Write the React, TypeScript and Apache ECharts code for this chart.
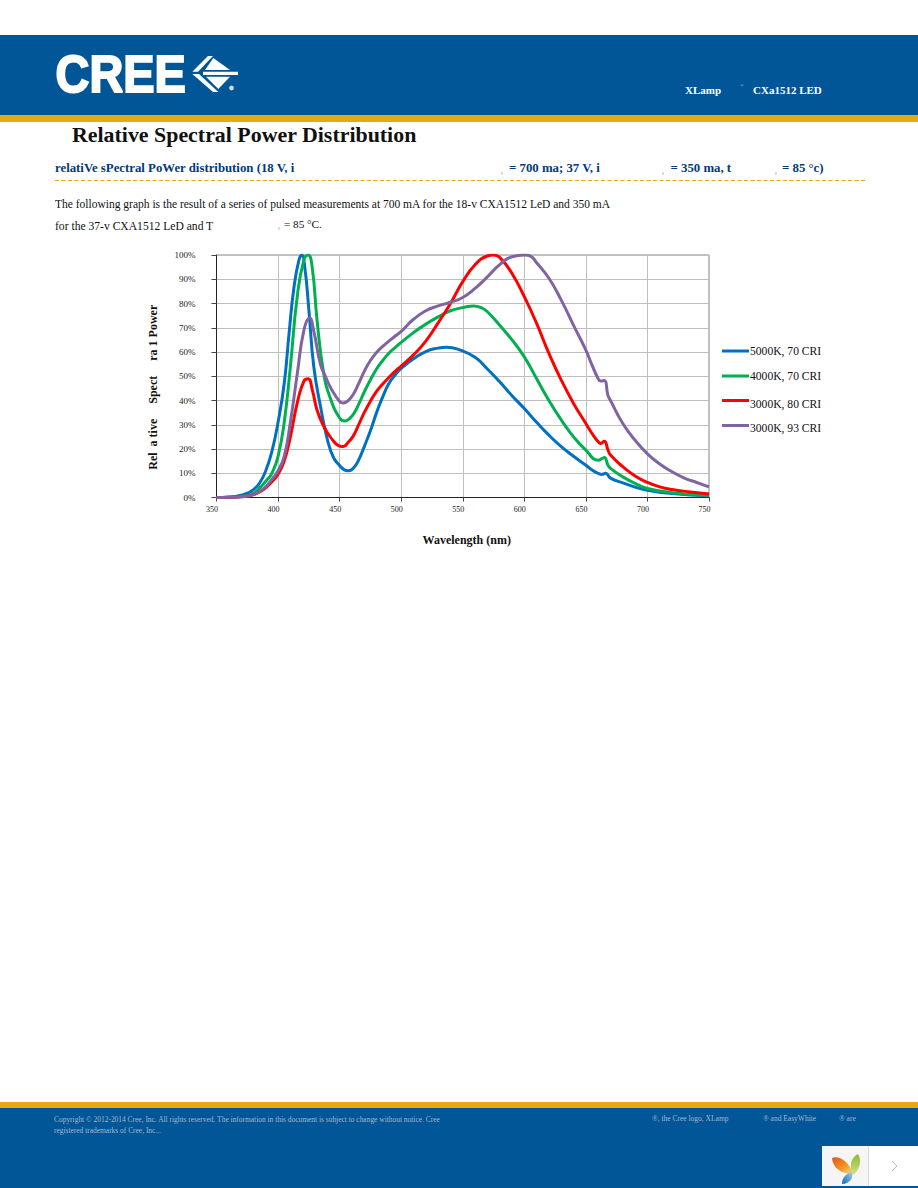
import React, { useEffect, useRef } from "react";
import * as echarts from "echarts";

const seriesNames = ["5000K, 70 CRI", "4000K, 70 CRI", "3000K, 80 CRI", "3000K, 93 CRI"];
const seriesColors = ["#0070c0", "#00b050", "#ff0000", "#8064a2"];
const tickPercent = (v: number) => `${v}%`;

const blue5000 = [[350,0],[360,0.1],[365,0.4],[370,0.9],[375,1.8],[380,3.2],[385,6],[390,11],[395,19],[400,31],[405,47],[409,68],[413,87],[417,98],[419.3,100],[421.7,95],[425,77.5],[429,54],[434.4,37.7],[440,24],[445,16.5],[450,13.2],[453.5,11.5],[457,11],[461,12],[465,15],[470,21],[475,27.5],[480,35],[485,41.5],[490,47],[495,50.5],[500,53.2],[510,57.2],[520,60.2],[530,61.6],[537,62],[547,61],[560,57.8],[570,53],[580,47.7],[590,42],[600,36.7],[610,31],[620,25.7],[630,21],[640,17],[650,13.3],[655,11.3],[660,10],[663,9.5],[666,10],[670,8],[680,6],[690,4.3],[700,3],[720,1.6],[750,0.7]];
const green4000 = [[350,0],[360,0.1],[370,0.4],[375,0.8],[380,1.6],[386,4.5],[391.4,7.5],[395,10],[400,17],[405,31],[410,54],[415.6,83],[421,98],[424.5,100],[427.7,95],[431.7,73],[437,51.4],[442.4,41],[450,32.8],[454,31.5],[458,32.5],[462,35],[466,39],[470,43.5],[475,48.5],[480,53],[485,56.5],[490,59.5],[495,61.8],[500,64],[510,68],[520,71.5],[530,74.5],[540,77],[550,78.3],[559,79],[565,78.3],[570,76.6],[580,71],[590,65],[600,58],[610,49],[620,40],[630,32],[640,25],[650,19.5],[660,15.4],[663,16],[665,16.5],[668,13.3],[670,12],[680,8.5],[690,5.8],[700,3.7],[720,2],[750,0.8]];
const red3000 = [[350,0],[360,0.1],[370,0.3],[375,0.6],[380,1.2],[385,2.3],[390,4],[395,6.5],[400,9.6],[405,15],[410,25],[415.6,39],[421,48],[424.5,49],[427.7,44.6],[431.7,36],[437,29.5],[442.4,25],[450,21.2],[453,21],[457,22.8],[461,25.3],[465,29.5],[470,35],[475,39.7],[480,43.8],[485,46.8],[490,49.5],[495,52],[500,54.2],[510,58.8],[520,64.5],[530,72],[540,80],[550,89],[560,96],[570,99.6],[575,100],[580,99],[590,92.4],[600,82.8],[610,71.8],[620,59.4],[630,48.4],[640,38.8],[650,30.5],[655,26.4],[660,23],[662,22.3],[665,23.2],[668,19.5],[670,17.5],[680,12.7],[690,8.9],[700,6.2],[710,4.4],[720,3.3],[735,2.3],[750,1.4]];
const purple3000 = [[350,0],[360,0.1],[370,0.3],[375,0.6],[380,1.2],[385,2.5],[390,4.5],[395,7.5],[400,11],[405,17],[410,31],[415.6,51],[421,69],[425.6,74],[429,68.6],[434.4,55],[438.4,50],[442.5,45.5],[450,39.6],[453,39],[457,40],[461,42.5],[465,46.5],[470,52],[475,56.5],[480,59.8],[485,62.3],[490,64.5],[495,66.5],[500,68.5],[510,73.5],[520,77],[530,79],[540,80.5],[550,82.5],[560,86.2],[570,91],[580,96],[590,99.3],[600,100],[605,99.5],[610,96.8],[620,90.4],[630,81.4],[640,71],[650,60.8],[655,54.6],[660,49],[662,48],[665,48.2],[668,42],[670,40],[680,30.5],[690,23.6],[700,18],[710,13.8],[720,10.6],[730,8],[740,6.2],[750,4.4]];
const curves = [blue5000, green4000, red3000, purple3000];

const BLUE = "#005696";
const GOLD = "#e8a811";
const NAVY = "#003b7a";
const SERIF = '"Liberation Serif", serif';

const label = (text: string, x: number, y: number, fontSize: number, fill: string, fontWeight = "normal") => ({
  type: "text",
  x,
  y,
  silent: true,
  style: { text, x: 0, y: 0, fontSize, fontFamily: SERIF, fontWeight, fill, textVerticalAlign: "middle" },
});
const box = (x: number, y: number, width: number, height: number, fill: string) => ({
  type: "rect",
  silent: true,
  shape: { x, y, width, height },
  style: { fill },
});
const poly = (points: number[][], fill: string) => ({
  type: "polygon",
  silent: true,
  shape: { points },
  style: { fill },
});

echarts.graphic.registerShape("leafOrange", echarts.graphic.extendPath("M832 1158C838 1155 848 1160 853 1173C845 1175 833 1170 832 1158Z", {}));
echarts.graphic.registerShape("leafGreen", echarts.graphic.extendPath("M858 1154C862 1160 860 1170 853 1175C849 1168 850 1158 858 1154Z", {}));
echarts.graphic.registerShape("leafBlue", echarts.graphic.extendPath("M852 1172C854 1178 849 1184 842 1184C842 1178 846 1173 852 1172Z", {}));

export default function App() {
  const ref = useRef<HTMLDivElement>(null);
  useEffect(() => {
    const chart = echarts.init(ref.current!, null, { renderer: "svg" });
    const legendTops = [345, 370, 398, 422];
    const legendPad = [0, 0, 7, 5];
    chart.setOption({
      animation: false,
      backgroundColor: "#ffffff",
      textStyle: { fontFamily: SERIF },
      grid: { left: 216.5, top: 255, width: 492.5, height: 242.5, show: true, borderColor: "#868686", borderWidth: 1, backgroundColor: "transparent", containLabel: false },
      xAxis: {
        type: "value",
        min: 350,
        max: 750,
        interval: 50,
        name: "Wavelength (nm)",
        nameLocation: "middle",
        nameGap: 36,
        nameTextStyle: { fontFamily: SERIF, fontSize: 12, fontWeight: "bold", color: "#111", padding: [0, 0, 0, 8] },
        axisLine: { show: true, lineStyle: { color: "#222", width: 1 } },
        axisTick: { show: true, length: 4, lineStyle: { color: "#444" } },
        axisLabel: { fontFamily: SERIF, fontSize: 8, color: "#222", margin: 8, padding: [0, 9, 0, 0] },
        splitLine: { show: true, lineStyle: { color: "#bfbfbf", width: 1 } },
      },
      yAxis: {
        type: "value",
        min: 0,
        max: 100,
        interval: 10,
        name: "Rel  a tive     Spect     ra 1 Power",
        nameLocation: "middle",
        nameGap: 58,
        nameRotate: 90,
        nameTextStyle: { fontFamily: SERIF, fontSize: 12, fontWeight: "bold", color: "#111", padding: [0, 22, 0, 0] },
        axisLine: { show: true, lineStyle: { color: "#222", width: 1 } },
        axisTick: { show: true, length: 5, lineStyle: { color: "#444" } },
        axisLabel: { fontFamily: SERIF, fontSize: 9, color: "#222", margin: 21, formatter: tickPercent },
        splitLine: { show: true, lineStyle: { color: "#bfbfbf", width: 1 } },
      },
      legend: seriesNames.map((name, i) => ({
        data: [name],
        left: 722,
        top: legendTops[i],
        icon: "rect",
        itemWidth: 27,
        itemHeight: 3,
        itemGap: 0,
        padding: 0,
        selectedMode: false,
        formatter: (n: string) => `{t|${n}}`,
        textStyle: {
          fontFamily: SERIF,
          fontSize: 11.6,
          color: "#111",
          padding: [0, 0, 0, -4],
          rich: { t: { fontFamily: SERIF, fontSize: 11.6, color: "#111", padding: [legendPad[i], 0, 0, 0] } },
        },
      })),
      series: seriesNames.map((name, i) => ({
        name,
        type: "line",
        data: curves[i],
        showSymbol: false,
        symbol: "none",
        smooth: 0.5,
        lineStyle: { color: seriesColors[i], width: 3 },
        itemStyle: { color: seriesColors[i] },
        z: 2 + i,
      })),
      graphic: [
        box(0, 35, 918, 80, BLUE),
        box(0, 115, 918, 7, GOLD),
        box(0, 1102, 918, 6, GOLD),
        box(0, 1108, 918, 80, BLUE),
        {
          type: "text",
          x: 55.5,
          y: 74,
          scaleX: 0.92,
          silent: true,
          style: { text: "CREE", x: 0, y: 0, fontSize: 51, fontFamily: '"Liberation Sans", sans-serif', fontWeight: "bold", fill: "#fff", stroke: "#fff", lineWidth: 2, textVerticalAlign: "middle" },
        },
        poly([[192.3,71.7],[208,56],[213,56],[198,71.7]], "#fff"),
        poly([[213.3,58],[230,70],[205,70]], "#fff"),
        poly([[203,71.7],[238,71.7],[238,75],[203,75]], "#fff"),
        poly([[192.3,74],[199,74],[218.3,92],[213,92]], "#fff"),
        poly([[206,76.7],[230,76.7],[218.3,89]], "#fff"),
        { type: "circle", silent: true, shape: { cx: 231.5, cy: 88, r: 2.4 }, style: { fill: "#cfdbe8" } },
        label("XLamp", 685, 90, 11, "#fff", "bold"),
        label("®", 740, 85, 5, "#b6c3d6"),
        label("CXa1512 LED", 753, 90, 11, "#fff", "bold"),
        label("Relative Spectral Power Distribution", 72, 134.5, 21.9, "#111", "bold"),
        label("relatiVe sPectral PoWer distribution (18 V, i", 55, 168, 12.8, NAVY, "bold"),
        label("= 700 ma; 37 V, i", 509, 168, 12.8, NAVY, "bold"),
        label("= 350 ma, t", 670.5, 168, 12.8, NAVY, "bold"),
        label("= 85 °c)", 782, 168, 12.8, NAVY, "bold"),
        box(501, 172, 2, 3, "#dddddd"),
        box(662, 172, 2, 3, "#dddddd"),
        box(775, 172, 2, 3, "#dddddd"),
        box(278, 227, 2, 3, "#dddddd"),
        {
          type: "line",
          silent: true,
          shape: { x1: 55, y1: 180.5, x2: 866, y2: 180.5 },
          style: { stroke: GOLD, lineWidth: 1, lineDash: [4, 2.5] },
        },
        label("The following graph is the result of a series of pulsed measurements at 700 mA for the 18-v CXA1512 LeD and 350 mA", 55, 204, 11.5, "#111"),
        label("for the 37-v CXA1512 LeD and T", 55, 226.5, 11.6, "#111"),
        label("= 85 °C.", 284, 224, 11.2, "#111"),
        label("Copyright © 2012-2014 Cree, Inc. All rights reserved. The information in this document is subject to change without notice. Cree", 54, 1119, 7.45, "#a9b6cd"),
        label("registered trademarks of Cree, Inc...", 54, 1130, 7.45, "#a9b6cd"),
        label("®, the Cree logo, XLamp", 652, 1118, 7.5, "#a9b6cd"),
        label("® and EasyWhite", 763, 1118, 7.5, "#a9b6cd"),
        label("® are", 839, 1118, 7.5, "#a9b6cd"),
        box(822, 1146, 96, 40, "#ffffff"),
        box(822, 1146, 46, 40, "#f5f5f5"),
        box(868, 1146, 1, 40, "#d9d9d9"),
        {
          type: "leafOrange",
          silent: true,
          style: { fill: new echarts.graphic.LinearGradient(0, 0, 1, 1, [{ offset: 0, color: "#e2501c" }, { offset: 0.6, color: "#f39a24" }, { offset: 1, color: "#f7d98a" }]) },
        },
        {
          type: "leafGreen",
          silent: true,
          style: { fill: new echarts.graphic.LinearGradient(0, 0, 0, 1, [{ offset: 0, color: "#8db92e" }, { offset: 1, color: "#d6e08a" }]) },
        },
        {
          type: "leafBlue",
          silent: true,
          style: { fill: new echarts.graphic.LinearGradient(1, 0, 0, 1, [{ offset: 0, color: "#a8d3ec" }, { offset: 1, color: "#0d66b2" }]) },
        },
        {
          type: "polyline",
          silent: true,
          shape: { points: [[892, 1161], [897, 1166], [892, 1171]] },
          style: { stroke: "#bdbdbd", lineWidth: 1, fill: "none" },
        },
      ],
    });
    return () => chart.dispose();
  }, []);
  return <div ref={ref} style={{ position: "absolute", left: 0, top: 0, width: 918, height: 1188 }} />;
}
